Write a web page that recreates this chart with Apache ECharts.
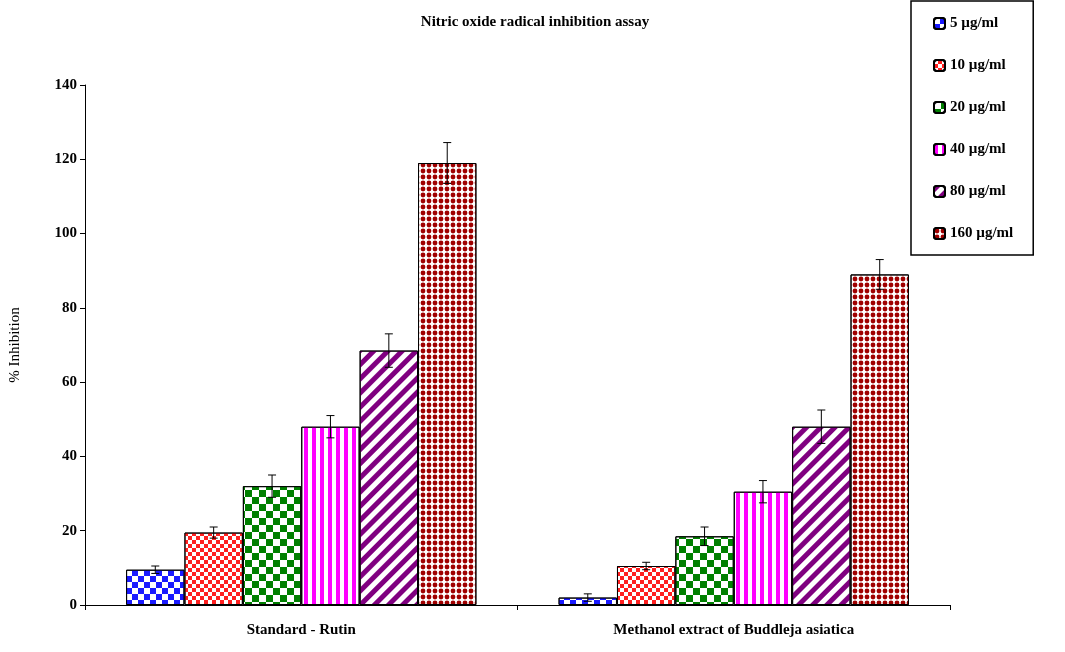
<!DOCTYPE html>
<html><head><meta charset="utf-8">
<script src="https://cdn.jsdelivr.net/npm/echarts@6/dist/echarts.min.js"></script>
<style>html,body{margin:0;background:#fff}#c{width:1065px;height:652px}</style>
</head><body><div id="c"></div>
<script>
const categories = ['Standard - Rutin', 'Methanol extract of Buddleja asiatica'];
const seriesNames = ['5 µg/ml', '10 µg/ml', '20 µg/ml', '40 µg/ml', '80 µg/ml', '160 µg/ml'];
const values5 = [9.5, 2];
const values10 = [19.5, 10.5];
const values20 = [32, 18.5];
const values40 = [48, 30.5];
const values80 = [68.5, 48];
const values160 = [119, 89];
const err5 = [1, 1];
const err10 = [1.5, 1];
const err20 = [3, 2.5];
const err40 = [3, 3];
const err80 = [4.5, 4.5];
const err160 = [5.5, 4];
const yTicks = [0, 20, 40, 60, 80, 100, 120, 140];

const values = [values5, values10, values20, values40, values80, values160];
const errs = [err5, err10, err20, err40, err80, err160];
const colors = ['#1a1aff', '#ff2020', '#008000', '#ff00ff', '#800080', '#a00000'];
const decals = [
  {symbol:'rect', symbolSize:1, dashArrayX:[[6,6],[0,6,6,0]], dashArrayY:[6,0], rotation:0},
  {symbol:'rect', symbolSize:1, dashArrayX:[[4,4],[0,4,4,0]], dashArrayY:[4,0], rotation:0},
  {symbol:'rect', symbolSize:1, dashArrayX:[[7,7],[0,7,7,0]], dashArrayY:[7,0], rotation:0},
  {symbol:'rect', symbolSize:1, dashArrayX:[[4,4]], dashArrayY:[1,0], rotation:0},
  {symbol:'rect', symbolSize:1, dashArrayX:[[1,0]], dashArrayY:[5,5], rotation:-Math.PI/4},
  {symbol:'circle', symbolSize:0.8, dashArrayX:[[6,0]], dashArrayY:[6,0], rotation:0}
];
const series = [];
seriesNames.forEach((n, i) => {
  series.push({
    name: n, type: 'bar', data: values[i], barGap: '0%', barCategoryGap: '19%',
    itemStyle: {color: '#ffffff', borderColor: '#000', borderWidth: 1,
      decal: Object.assign({color: colors[i]}, decals[i])}
  });
});
seriesNames.forEach((n, i) => {
  series.push({
    type: 'custom', name: n + ' err', silent: true, z: 10,
    data: values[i].map((v, k) => [k, v, errs[i][k]]),
    renderItem: (params, api) => {
      const k = api.value(0), v = api.value(1), e = api.value(2);
      const size = api.size([1, 0])[0];
      const groupW = size * 0.81, bw = groupW / 6;
      const cx = api.coord([k, 0])[0] - groupW / 2 + bw * (i + 0.5);
      const top = api.coord([k, v + e])[1], bot = api.coord([k, v - e])[1];
      const st = {stroke: '#000', lineWidth: 1};
      return {type: 'group', children: [
        {type: 'line', shape: {x1: cx, y1: top, x2: cx, y2: bot}, style: st},
        {type: 'line', shape: {x1: cx - 4, y1: top, x2: cx + 4, y2: top}, style: st},
        {type: 'line', shape: {x1: cx - 4, y1: bot, x2: cx + 4, y2: bot}, style: st}
      ]};
    }
  });
});
const chart = echarts.init(document.getElementById('c'));
chart.setOption({
  aria: {decal: {show: true}},
  animation: false,
  textStyle: {fontFamily: 'Liberation Serif', color: '#000'},
  title: {text: 'Nitric oxide radical inhibition assay', left: 530, top: 10, textAlign: 'center',
    textStyle: {fontSize: 15, fontWeight: 'bold', color: '#000', fontFamily: 'Liberation Serif'}},
  legend: {data: seriesNames, orient: 'vertical', left: 911, top: 1, itemGap: 27,
    itemWidth: 11, itemHeight: 11, padding: [15, 20, 14, 22],
    borderColor: '#000', borderWidth: 1.5, inactiveColor: '#000',
    textStyle: {fontSize: 15, fontWeight: 'bold', color: '#000', fontFamily: 'Liberation Serif'}},
  grid: {left: 82, right: 115, top: 85, bottom: 47},
  xAxis: {type: 'category', data: categories,
    axisLine: {lineStyle: {color: '#000'}}, axisTick: {show: true, length: 5, lineStyle: {color: '#000'}},
    axisLabel: {fontSize: 15, fontWeight: 'bold', color: '#000', margin: 18}},
  yAxis: {type: 'value', min: 0, max: 140, interval: 20, name: '% Inhibition',
    nameLocation: 'middle', nameGap: 62, nameTextStyle: {fontSize: 15, color: '#000'},
    axisLine: {show: true, lineStyle: {color: '#000'}}, axisTick: {show: true, lineStyle: {color: '#000'}},
    splitLine: {show: false},
    axisLabel: {fontSize: 15, fontWeight: 'bold', color: '#000', formatter: v => yTicks.includes(v) ? String(v) : ''}},
  series: series
});
</script></body></html>
